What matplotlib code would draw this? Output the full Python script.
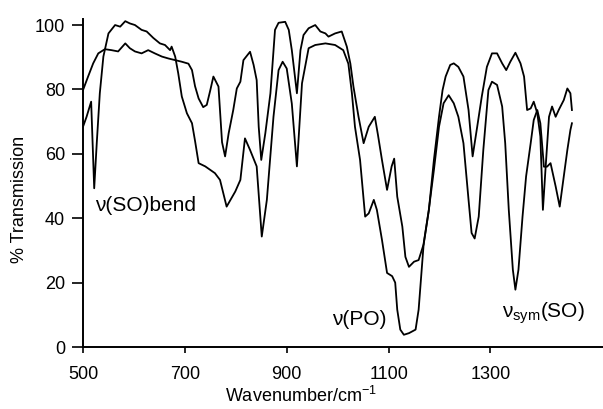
import matplotlib
matplotlib.use("Agg")
import matplotlib.pyplot as plt

plt.rcParams["font.family"] = ["Liberation Sans", "DejaVu Sans"]
plt.rcParams["mathtext.fontset"] = "custom"
plt.rcParams["mathtext.rm"] = "Liberation Sans"
plt.rcParams["mathtext.it"] = "Liberation Sans:italic"

# spectrum A (sharp dip near 520, deep band near 1130)
wn_a = [500, 507, 516, 522, 527, 533, 540, 550, 563, 573, 583, 592, 602, 615, 625, 638,
        651, 661, 671, 674, 681, 687, 694, 704, 714, 720, 727, 740, 759, 769, 782, 799,
        809, 818, 828, 841, 851, 861, 874, 884, 892, 900, 910, 920, 930, 943, 956, 976,
        995, 1011, 1021, 1028, 1034, 1044, 1054, 1061, 1071, 1077, 1087, 1097, 1107, 1113,
        1117, 1123, 1130, 1140, 1153, 1159, 1169, 1179, 1189, 1199, 1208, 1218, 1228, 1237,
        1247, 1257, 1263, 1269, 1277, 1286, 1296, 1303, 1313, 1323, 1329, 1336, 1344, 1349,
        1355, 1363, 1370, 1379, 1385, 1392, 1398, 1405, 1411, 1418, 1428, 1436, 1444, 1451,
        1457, 1460]
tr_a = [68.4, 71.5, 76.2, 49.3, 63.3, 78.8, 90.2, 97.4, 100, 99.5, 101.2, 100.5, 100, 98.5,
        98, 96, 94.3, 93.8, 92.2, 93.3, 90.2, 85, 77.8, 72.6, 69.5, 64, 57.1, 56.1, 54, 51.9,
        43.6, 48.3, 51.9, 64.8, 61.2, 56.1, 34.3, 45.7, 71.5, 86, 88.6, 86.5, 75.6, 56.1,
        81.9, 92.8, 93.8, 94.3, 93.8, 92.2, 88, 78.8, 68.4, 58.1, 40.5, 41.5, 45.7, 42.6,
        33.3, 23, 22, 20, 11.6, 5.4, 3.8, 4.3, 5.4, 11.6, 32.3, 42.6, 55, 68.4, 75.7, 78.2,
        75.7, 71.5, 63.3, 45.7, 35.4, 33.7, 40.5, 61.2, 79.8, 82.4, 81.4, 74.7, 63.3, 42.6,
        24, 17.8, 24, 40.5, 53, 63.3, 70.5, 73.6, 69.5, 56, 56, 57.1, 49.9, 43.6, 53, 61.2,
        67.4, 69.5]

# spectrum B (flat ~92 plateau at low wavenumber)
wn_b = [500, 510, 520, 530, 543, 556, 569, 583, 592, 602, 615, 628, 641, 655, 668, 681,
        694, 707, 714, 720, 727, 736, 743, 750, 756, 766, 773, 779, 786, 795, 802, 809,
        815, 828, 835, 841, 845, 850, 858, 868, 877, 884, 897, 904, 910, 920, 927, 933,
        943, 956, 966, 976, 982, 995, 1008, 1018, 1025, 1031, 1041, 1051, 1061, 1073, 1079,
        1087, 1097, 1106, 1111, 1117, 1127, 1133, 1140, 1150, 1159, 1169, 1179, 1189, 1199,
        1206, 1212, 1221, 1228, 1237, 1247, 1257, 1265, 1274, 1283, 1293, 1303, 1313, 1323,
        1331, 1339, 1349, 1359, 1366, 1372, 1379, 1385, 1392, 1398, 1403, 1408, 1415, 1421,
        1428, 1434, 1444, 1451, 1457, 1460]
tr_b = [79.8, 84, 88.1, 91.2, 92.5, 92.2, 91.8, 94.3, 92.8, 91.8, 91.2, 92.2, 91.2, 90.2,
        89.6, 89.1, 88.6, 88, 86, 81, 77.2, 74.5, 75.2, 79.8, 84, 80.9, 63.6, 59.2, 66.4,
        73.6, 80.3, 82.4, 89.1, 91.7, 87.6, 82.9, 68.4, 58.1, 66.4, 78.8, 98.5, 100.7, 101,
        98.5, 92.2, 78.8, 92.2, 96.9, 99, 100, 98, 97.4, 96.4, 97.4, 98, 93.3, 88, 80.9,
        71.5, 63.3, 68.4, 71.5, 66, 58.1, 48.8, 56.1, 58.5, 46.7, 37.4, 28, 24.9, 26.5, 27,
        32, 42.4, 58.1, 71.5, 79.8, 84, 87.6, 88.1, 87, 84, 73.6, 59.2, 68.4, 77.8, 87,
        91.2, 91.2, 88.1, 86, 88.6, 91.4, 88.1, 84, 73.6, 74.1, 76.2, 72.6, 65.4, 42.6, 55,
        71.5, 74.7, 71.5, 73.6, 76.7, 80.3, 78.8, 73.6]

x_ticks = [500, 700, 900, 1100, 1300]
y_ticks = [0, 20, 40, 60, 80, 100]

fig = plt.figure(figsize=(6.03, 4.09), dpi=100)
ax = fig.add_axes([83 / 603, 62 / 409, 520 / 603, 328.4 / 409])
ax.plot(wn_a, tr_a, color="black", lw=1.3)
ax.plot(wn_b, tr_b, color="black", lw=1.3)

ax.set_xlim(500, 1521)
ax.set_ylim(0, 102)
ax.set_xticks(x_ticks)
ax.set_yticks(y_ticks)
for s in ("top", "right"):
    ax.spines[s].set_visible(False)
for s in ("left", "bottom"):
    ax.spines[s].set_linewidth(1.4)
ax.tick_params(axis="y", direction="out", length=8, width=1.2, pad=5, labelsize=13)
ax.tick_params(axis="x", direction="out", length=4, width=1.2, pad=10, labelsize=13)

ax.set_xlabel("Wavenumber/cm$^{-1}$", fontsize=13)
ax.xaxis.set_label_coords(0.42, -0.118)
ax.set_ylabel("% Transmission", fontsize=13)
ax.yaxis.set_label_coords(-0.105, 0.45)

ax.text(523, 44, "ν(SO)bend", fontsize=15, va="center", ha="left")
ax.text(990, 8.4, "ν(PO)", fontsize=15, va="center", ha="left")
ax.text(1323, 10.5, "ν$_{\\mathrm{sym}}$(SO)", fontsize=15, va="center", ha="left")

fig.savefig("out.png", dpi=100)
